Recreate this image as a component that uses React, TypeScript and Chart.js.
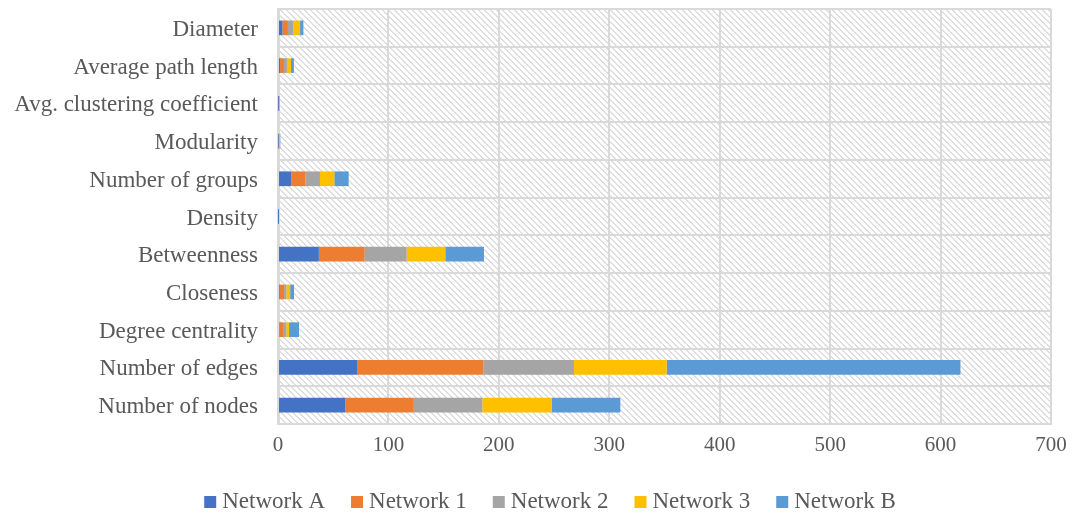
import React, { useEffect, useRef } from "react";
import { Chart, registerables } from "chart.js";

Chart.register(...registerables);

// Metric names, listed top to bottom
const categories = [
  "Diameter",
  "Average path length",
  "Avg. clustering coefficient",
  "Modularity",
  "Number of groups",
  "Density",
  "Betweenness",
  "Closeness",
  "Degree centrality",
  "Number of edges",
  "Number of nodes",
];

const networkA = [4, 1.9, 0.2, 0.3, 12, 0.03, 37, 1.5, 1, 72, 61];
const network1 = [5, 3.5, 0.3, 0.4, 13, 0.05, 41.5, 4, 3.5, 114, 62];
const network2 = [5, 2.7, 0.3, 0.5, 13, 0.03, 38, 2, 3, 82, 62];
const network3 = [6, 3.6, 0.2, 0.6, 13, 0.04, 35, 3.5, 2.5, 84, 63];
const networkB = [3, 2.7, 0.4, 0.3, 13, 0.02, 35, 3.5, 9, 266, 62];

const seriesNames = ["Network A", "Network 1", "Network 2", "Network 3", "Network B"];
const seriesValues = [networkA, network1, network2, network3, networkB];
const seriesColors = ["#4472C4", "#ED7D31", "#A5A5A5", "#FFC000", "#5B9BD5"];

const xMin = 0;
const xMax = 700;
const xStep = 100;

const FONT = "'Liberation Serif', 'Times New Roman', serif";
const TEXT = "#595959";
const GRID = "#D9D9D9";

// Diagonal hatch used as the plot-area fill
function makeHatch(ctx: CanvasRenderingContext2D): CanvasPattern | string {
  const size = 6;
  const tile = document.createElement("canvas");
  tile.width = size;
  tile.height = size;
  const g = tile.getContext("2d");
  if (!g) return "#fff";
  const img = g.createImageData(size, size);
  for (let y = 0; y < size; y++) {
    for (let x = 0; x < size; x++) {
      const d = (((x - y) % size) + size) % size;
      const on = d < 2;
      const i = (y * size + x) * 4;
      const v = on ? 222 : 255;
      img.data[i] = v;
      img.data[i + 1] = v;
      img.data[i + 2] = v;
      img.data[i + 3] = 255;
    }
  }
  g.putImageData(img, 0, 0);
  return ctx.createPattern(tile, "repeat") || "#fff";
}

const hatchPlugin = {
  id: "hatchBackground",
  beforeDraw(chart: any) {
    const { ctx, chartArea } = chart;
    ctx.save();
    ctx.fillStyle = makeHatch(ctx);
    ctx.fillRect(chartArea.left, chartArea.top, chartArea.right - chartArea.left, chartArea.bottom - chartArea.top);
    ctx.restore();
  },
};

// Legend row drawn under the axis
const legendPlugin = {
  id: "bottomLegend",
  afterDraw(chart: any) {
    const { ctx } = chart;
    ctx.save();
    ctx.font = `23px ${FONT}`;
    const box = 12;
    const textGap = 18;
    const itemGap = 26;
    const widths = seriesNames.map((n) => textGap + ctx.measureText(n).width);
    const total = widths.reduce((a, b) => a + b, 0) + itemGap * (seriesNames.length - 1);
    let x = 542 - total / 2;
    const baseline = 499.5;
    seriesNames.forEach((name, i) => {
      ctx.fillStyle = seriesColors[i];
      ctx.fillRect(x, 488, box, box);
      ctx.fillStyle = TEXT;
      ctx.textBaseline = "alphabetic";
      ctx.textAlign = "left";
      ctx.fillText(name, x + textGap, baseline);
      x += widths[i] + itemGap;
    });
    ctx.restore();
  },
};

export default function App() {
  const canvasRef = useRef<HTMLCanvasElement | null>(null);

  useEffect(() => {
    if (!canvasRef.current) return;
    const chart = new Chart(canvasRef.current, {
      type: "bar",
      data: {
        labels: categories,
        datasets: seriesNames.map((name, i) => ({
          label: name,
          data: seriesValues[i],
          backgroundColor: seriesColors[i],
          borderWidth: 0,
          barPercentage: 0.39,
          categoryPercentage: 1,
        })),
      },
      options: {
        indexAxis: "y",
        responsive: false,
        animation: false,
        layout: { padding: { top: 1, right: 15, left: 0, bottom: 0 } },
        plugins: {
          legend: { display: false },
          tooltip: { enabled: false },
        },
        scales: {
          x: {
            stacked: true,
            min: xMin,
            max: xMax,
            ticks: {
              stepSize: xStep,
              color: TEXT,
              font: { family: FONT, size: 21 },
              padding: 9,
            },
            grid: { color: GRID, lineWidth: 2, drawTicks: false },
            border: { color: GRID, width: 2 },
            afterFit(scale: any) {
              scale.height = 91;
              scale.paddingLeft = 0;
              scale.paddingRight = 0;
            },
          },
          y: {
            stacked: true,
            ticks: {
              color: TEXT,
              font: { family: FONT, size: 23 },
              padding: 20,
              labelOffset: 2,
              autoSkip: false,
            },
            grid: { color: GRID, lineWidth: 2, drawTicks: false, offset: true },
            border: { color: GRID, width: 3 },
            afterFit(scale: any) {
              scale.width = 270;
              scale.paddingTop = 0;
              scale.paddingBottom = 0;
            },
          },
        },
      },
      plugins: [hatchPlugin, legendPlugin],
    });
    return () => chart.destroy();
  }, []);

  return <canvas ref={canvasRef} width={1058} height={507} style={{ display: "block" }} />;
}
